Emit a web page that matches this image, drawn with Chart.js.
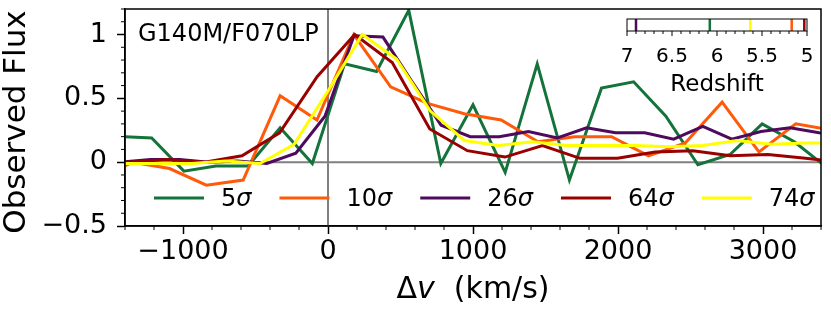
<!DOCTYPE html>
<html>
<head>
<meta charset="utf-8">
<script src="https://cdn.jsdelivr.net/npm/chart.js@4.4.0/dist/chart.umd.min.js"></script>
<style>
  html, body { margin: 0; padding: 0; background: #fff; }
  canvas { display: block; }
</style>
</head>
<body>
<canvas id="flux" width="831" height="310"></canvas>
<script>
// velocity grid (km/s) and flux for each stack
const vel5 = [-1438, -1216, -994, -773, -551, -330, -108, 114, 335, 557, 778, 1000, 1222, 1443, 1665, 1886, 2108, 2330, 2551, 2773, 2994, 3216, 3438];
const flux5 = [0.20, 0.19, -0.07, -0.03, -0.03, 0.27, -0.01, 0.77, 0.71, 1.19, -0.01, 0.45, -0.08, 0.77, -0.14, 0.58, 0.63, 0.36, -0.02, 0.06, 0.30, 0.16, -0.04];

const vel10 = [-1601, -1347, -1093, -839, -585, -330, -76, 178, 432, 686, 940, 1194, 1448, 1702, 1956, 2210, 2464, 2718, 2972, 3226, 3480];
const flux10 = [-0.14, 0.0, -0.05, -0.18, -0.14, 0.52, 0.33, 1.0, 0.59, 0.46, 0.38, 0.33, 0.16, 0.20, 0.20, 0.05, 0.15, 0.47, 0.08, 0.30, 0.25];

const vel26 = [-1424, -1224, -1023, -823, -623, -422, -222, -21, 179, 379, 580, 780, 981, 1181, 1382, 1582, 1783, 1983, 2184, 2384, 2585, 2785, 2986, 3186, 3387, 3587];
const flux26 = [0.0, 0.02, 0.02, 0.0, 0.01, -0.01, 0.07, 0.36, 0.99, 0.98, 0.63, 0.29, 0.20, 0.20, 0.24, 0.19, 0.27, 0.23, 0.23, 0.18, 0.28, 0.18, 0.24, 0.27, 0.23, 0.20];

const vel64 = [-1630, -1371, -1112, -852, -593, -334, -75, 184, 443, 702, 961, 1220, 1479, 1738, 1997, 2256, 2516, 2775, 3034, 3293, 3552];
const flux64 = [0.0, 0.0, 0.02, 0.0, 0.05, 0.23, 0.67, 1.0, 0.78, 0.26, 0.09, 0.04, 0.13, 0.03, 0.03, 0.08, 0.09, 0.05, 0.06, 0.03, 0.0];

const vel74 = [-1644, -1409, -1174, -939, -704, -469, -234, 1, 236, 471, 706, 941, 1176, 1411, 1646, 1881, 2116, 2351, 2586, 2821, 3056, 3291, 3526];
const flux74 = [0.0, -0.01, -0.01, -0.01, 0.01, -0.01, 0.14, 0.56, 1.0, 0.81, 0.40, 0.17, 0.13, 0.16, 0.13, 0.13, 0.13, 0.12, 0.13, 0.17, 0.14, 0.15, 0.15];

const sigmas = ['5', '10', '26', '64', '74'];
const redshifts = [6.08, 5.17, 6.90, 5.03, 5.63];

const xTicks = [-1000, 0, 1000, 2000, 3000];
const yTicks = [-0.5, 0, 0.5, 1];
const zTicks = [7, 6.5, 6, 5.5, 5];

const velocities = [vel5, vel10, vel26, vel64, vel74];
const fluxes = [flux5, flux10, flux26, flux64, flux74];
const colors = ['#14733a', '#ff5a0a', '#4e0a5c', '#990000', '#ffff00'];

const FONT = "'DejaVu Sans'";
const minus = v => (v < 0 ? '\u2212' : '') + Math.abs(v);

// draws text pieces side by side, some italic
function drawPieces(ctx, pieces, size, x, y, align) {
    let widths = pieces.map(p => {
        ctx.font = (p.italic ? 'italic ' : '') + size + 'px ' + FONT;
        return ctx.measureText(p.text).width;
    });
    let total = widths.reduce((s, w) => s + w, 0);
    let cx = align === 'center' ? x - total / 2 : x;
    ctx.textAlign = 'left';
    pieces.forEach((p, i) => {
        ctx.font = (p.italic ? 'italic ' : '') + size + 'px ' + FONT;
        ctx.fillText(p.text, cx, y);
        cx += widths[i];
    });
    return total;
}

const extras = {
    id: 'extras',
    beforeDatasetsDraw(chart) {
        const { ctx, chartArea: a, scales: { x, y } } = chart;
        ctx.save();
        ctx.strokeStyle = 'gray';
        ctx.lineWidth = 2;
        let x0 = x.getPixelForValue(0);
        let y0 = y.getPixelForValue(0);
        ctx.beginPath();
        ctx.moveTo(a.left, y0);
        ctx.lineTo(a.right, y0);
        ctx.moveTo(x0, a.top);
        ctx.lineTo(x0, a.bottom);
        ctx.stroke();
        ctx.restore();
    },
    afterDraw(chart) {
        const { ctx, chartArea: a, scales: { x, y } } = chart;
        ctx.save();

        // frame
        ctx.strokeStyle = 'black';
        ctx.lineWidth = 1.5;
        ctx.strokeRect(a.left, a.top, a.right - a.left, a.bottom - a.top);

        // minor ticks
        ctx.lineWidth = 1;
        ctx.beginPath();
        for (let v = -1400; v <= 3400; v += 200) {
            if (v % 1000 === 0) continue;
            let px = x.getPixelForValue(v);
            ctx.moveTo(px, a.bottom);
            ctx.lineTo(px, a.bottom + 4);
        }
        for (let k = -5; k <= 12; k++) {
            if (k % 5 === 0) continue;
            let py = y.getPixelForValue(k / 10);
            ctx.moveTo(a.left, py);
            ctx.lineTo(a.left - 4, py);
        }
        ctx.stroke();

        ctx.fillStyle = 'black';
        ctx.textBaseline = 'alphabetic';

        // axis titles
        drawPieces(ctx, [{ text: 'Δ' }, { text: 'v', italic: true }, { text: '  (km/s)' }], 30, (a.left + a.right) / 2, 298, 'center');
        ctx.save();
        ctx.translate(25, 122);
        ctx.rotate(-Math.PI / 2);
        ctx.font = '31px ' + FONT;
        ctx.textAlign = 'center';
        ctx.fillText('Observed Flux', 0, 0);
        ctx.restore();

        // grating label
        ctx.font = '24px ' + FONT;
        ctx.textAlign = 'left';
        ctx.fillText('G140M/F070LP', 138, 41);

        // legend along the bottom of the axes
        let hx = 154;
        sigmas.forEach((s, i) => {
            ctx.strokeStyle = colors[i];
            ctx.lineWidth = 3;
            ctx.beginPath();
            ctx.moveTo(hx, 198);
            ctx.lineTo(hx + 50, 198);
            ctx.stroke();
            let w = drawPieces(ctx, [{ text: s }, { text: 'σ', italic: true }], 24, hx + 67, 206, 'left');
            hx += 67 + w + 28;
        });

        // redshift colour bar
        const cb = { left: 627, right: 807, top: 19, bottom: 31 };
        const zx = z => cb.left + (7 - z) / 2 * (cb.right - cb.left);
        ctx.fillStyle = 'white';
        ctx.fillRect(cb.left, cb.top, cb.right - cb.left, cb.bottom - cb.top);
        redshifts.forEach((z, i) => {
            ctx.strokeStyle = colors[i];
            ctx.lineWidth = 2.5;
            ctx.beginPath();
            ctx.moveTo(zx(z), cb.top);
            ctx.lineTo(zx(z), cb.bottom);
            ctx.stroke();
        });
        ctx.strokeStyle = 'black';
        ctx.lineWidth = 1;
        ctx.strokeRect(cb.left, cb.top, cb.right - cb.left, cb.bottom - cb.top);
        ctx.beginPath();
        for (let k = 50; k <= 70; k++) {
            let px = zx(k / 10);
            ctx.moveTo(px, cb.bottom);
            ctx.lineTo(px, cb.bottom + (k % 5 === 0 ? 5 : 3));
        }
        ctx.stroke();
        ctx.fillStyle = 'black';
        ctx.font = '20px ' + FONT;
        ctx.textAlign = 'center';
        zTicks.forEach(z => ctx.fillText(String(z), zx(z), 62));
        ctx.font = '23px ' + FONT;
        ctx.fillText('Redshift', (cb.left + cb.right) / 2, 91);

        ctx.restore();
    }
};

const datasets = sigmas.map((s, i) => ({
    label: s + 'σ',
    data: velocities[i].map((v, j) => ({ x: v, y: fluxes[i][j] })),
    borderColor: colors[i],
    borderWidth: 3,
    pointRadius: 0,
    tension: 0,
    clip: 0,
    order: sigmas.length - i
}));

const tickFont = { family: FONT, size: 27 };

new Chart(document.getElementById('flux'), {
    type: 'line',
    data: { datasets: datasets },
    options: {
        responsive: false,
        animation: false,
        layout: { padding: { top: 9, right: 10, left: 0, bottom: 0 } },
        plugins: { legend: { display: false }, tooltip: { enabled: false } },
        scales: {
            x: {
                type: 'linear',
                min: -1400,
                max: 3400,
                afterBuildTicks: axis => { axis.ticks = xTicks.map(v => ({ value: v })); },
                afterFit: axis => {
                    axis.height = 84;
                    axis.paddingLeft = 0;
                    axis.paddingRight = 0;
                },
                ticks: { autoSkip: false, maxRotation: 0, padding: 2, color: 'black', font: tickFont, callback: v => minus(v) },
                grid: { drawOnChartArea: false, tickLength: 8, tickColor: 'black', tickWidth: 1.5 },
                border: { color: 'black', width: 1.5 }
            },
            y: {
                min: -0.5,
                max: 1.2,
                afterBuildTicks: axis => { axis.ticks = yTicks.map(v => ({ value: v })); },
                afterFit: axis => {
                    axis.width = 125;
                    axis.paddingTop = 0;
                    axis.paddingBottom = 0;
                },
                ticks: { autoSkip: false, padding: 10, color: 'black', font: tickFont, callback: v => minus(v) },
                grid: { drawOnChartArea: false, tickLength: 8, tickColor: 'black', tickWidth: 1.5 },
                border: { color: 'black', width: 1.5 }
            }
        }
    },
    plugins: [extras]
});
</script>
</body>
</html>
